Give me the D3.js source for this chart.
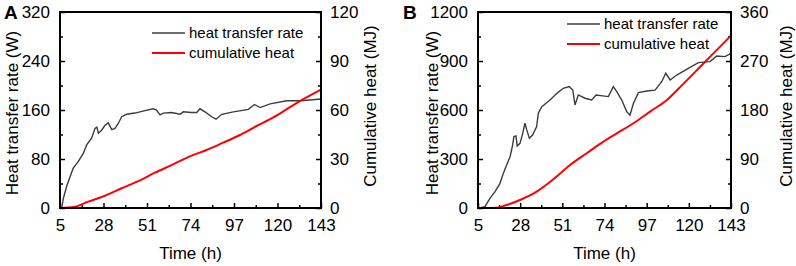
<!DOCTYPE html>
<html lang="en">
<head>
  <meta charset="UTF-8">
  <title>Heat transfer rate and cumulative heat</title>
  <style>
    body { margin: 0; background: #fff; }
    svg { font-family: "Liberation Sans", Arial, sans-serif; }
    .tick line { stroke: #000; stroke-width: 1.5; }
    .axis-title { font-size: 17px; }
    .legend text { font-size: 15px; }
  </style>
</head>
<body>
  <script src="https://cdn.jsdelivr.net/npm/d3@7"></script>
  <script>
    const width = 796, height = 266;

    // shared x ticks (time, h)
    const timeTicks = [5, 28, 51, 74, 97, 120, 143];

    // panel A
    const timeRateA = [5.9, 6.8, 8.5, 10.3, 12, 14.7, 17.3, 19.1, 21.7, 23.5, 24.5, 25.3, 27, 28.8, 30.5, 32.4, 34.1, 35.8, 37.6, 40.2,
      44.6, 49.9, 54.3, 56, 57.9, 59.6, 64, 68.5, 70.2, 74.6, 77.3, 79, 81.7, 85.2, 87.5, 90.5, 96.7, 104.6, 107.8, 110.8,
      116.1, 124.9, 132.3, 143];
    const rateA = [0, 16, 35, 51, 65, 76, 89, 103, 114, 130, 132, 122, 127, 135, 139, 128, 130, 138, 149, 153,
      155, 159, 162, 160, 152, 155, 156, 153, 157, 156, 156, 162, 157, 149, 145, 153, 157, 161, 169, 164,
      170, 175, 175, 178];
    const timeHeatA = [5, 12.9, 19.9, 28.8, 37.6, 46.4, 55.2, 64, 74, 82.5, 91.3, 100.1, 108.9, 117.8, 126.6, 133.6, 143];
    const heatA = [0, 0.8, 3.9, 7.5, 12.1, 16.5, 21.6, 26.3, 31.8, 35.5, 40, 44.7, 50.2, 55.5, 61.7, 66.6, 72.5];
    const rateTicksA = [0, 80, 160, 240, 320];
    const heatTicksA = [0, 30, 60, 90, 120];

    // panel B
    const timeRateB = [5.7, 8.8, 11.5, 14.3, 17, 18.8, 20.6, 22.5, 23.9, 24.6, 25.7, 26.4, 27.9, 29.4, 30.6, 31.6, 33, 34.8, 37, 37.9,
      39.8, 44.3, 48, 51.5, 54.8, 56.7, 57.9, 59.7, 63.4, 67, 69.4, 76.1, 78.8, 80.7, 83.4, 86.1, 87.9, 89.8, 92.5, 97,
      101.6, 105.2, 107.4, 109.8, 113.4, 119.7, 125.2, 131.6, 135.2, 139.7, 143];
    const rateB = [0, 8, 59, 100, 151, 212, 263, 314, 386, 437, 441, 380, 396, 457, 519, 478, 427, 447, 498, 580,
      620, 661, 702, 733, 743, 722, 631, 692, 672, 661, 692, 682, 743, 712, 661, 590, 569, 641, 706, 716,
      722, 773, 825, 784, 814, 855, 890, 896, 931, 927, 947];
    const timeHeatB = [5, 15.2, 20.6, 27.9, 37, 46.1, 55.2, 64.3, 73.4, 80.7, 89.8, 98.8, 107.9, 117, 126.1, 133.4, 141.6, 143];
    const heatB = [0, 0.6, 5.5, 14.7, 30, 52.7, 79, 100.5, 121.8, 137, 155.6, 177, 198, 228, 259, 284, 312, 317];
    const rateTicksB = [0, 300, 600, 900, 1200];
    const heatTicksB = [0, 90, 180, 270, 360];

    const legendNames = ['heat transfer rate', 'cumulative heat'];

    const svg = d3.select('body').append('svg')
      .attr('width', width)
      .attr('height', height);

    function midpoints(ticks) {
      const out = [];
      for (let i = 0; i < ticks.length - 1; i++) out.push((ticks[i] + ticks[i + 1]) / 2);
      return out;
    }

    // strip the domain line and use our own font
    function tidy(s) {
      s.select('.domain').remove();
      s.attr('font-family', '"Liberation Sans", Arial, sans-serif').attr('font-size', 17);
    }

    function drawPanel(p) {
      const g = svg.append('g');
      const x = d3.scaleLinear().domain([5, 143]).range([p.left, p.right]);
      const yL = d3.scaleLinear().domain([0, p.rateTicks[p.rateTicks.length - 1]]).range([p.bottom, p.top]);
      const yR = d3.scaleLinear().domain([0, p.heatTicks[p.heatTicks.length - 1]]).range([p.bottom, p.top]);
      const fmt = d3.format('d');

      // minor ticks
      g.append('g').attr('transform', `translate(0,${p.bottom})`)
        .call(d3.axisBottom(x).tickValues(midpoints(timeTicks)).tickSize(-3).tickFormat(''))
        .call(tidy);
      g.append('g').attr('transform', `translate(${p.left},0)`)
        .call(d3.axisLeft(yL).tickValues(midpoints(p.rateTicks)).tickSize(-3).tickFormat(''))
        .call(tidy);
      g.append('g').attr('transform', `translate(${p.right},0)`)
        .call(d3.axisRight(yR).tickValues(midpoints(p.heatTicks)).tickSize(-3).tickFormat(''))
        .call(tidy);

      // major ticks
      g.append('g').attr('transform', `translate(0,${p.bottom})`)
        .call(d3.axisBottom(x).tickValues(timeTicks).tickSize(-5).tickPadding(11).tickFormat(fmt))
        .call(tidy);
      g.append('g').attr('transform', `translate(${p.left},0)`)
        .call(d3.axisLeft(yL).tickValues(p.rateTicks).tickSize(-5).tickPadding(10).tickFormat(fmt))
        .call(tidy);
      g.append('g').attr('transform', `translate(${p.right},0)`)
        .call(d3.axisRight(yR).tickValues(p.heatTicks).tickSize(-5).tickPadding(9).tickFormat(fmt))
        .call(tidy);

      // lines
      const rateLine = d3.line().x((d, i) => x(p.timeRate[i])).y(d => yL(d));
      const heatLine = d3.line().curve(d3.curveMonotoneX).x((d, i) => x(p.timeHeat[i])).y(d => yR(d));
      g.append('path').datum(p.rate)
        .attr('d', rateLine).attr('fill', 'none')
        .attr('stroke', '#3c3c3c').attr('stroke-width', 1.4);
      g.append('path').datum(p.heat)
        .attr('d', heatLine).attr('fill', 'none')
        .attr('stroke', '#ff0000').attr('stroke-width', 2);

      // frame
      g.append('rect')
        .attr('x', p.left).attr('y', p.top)
        .attr('width', p.right - p.left).attr('height', p.bottom - p.top)
        .attr('fill', 'none').attr('stroke', '#000').attr('stroke-width', 2);

      // legend
      const leg = g.append('g').attr('class', 'legend');
      const colors = ['#3c3c3c', '#ff0000'];
      legendNames.forEach((name, i) => {
        const ly = p.legY + i * 20;
        leg.append('line')
          .attr('x1', p.legX).attr('x2', p.legX + 33)
          .attr('y1', ly).attr('y2', ly)
          .attr('stroke', colors[i]).attr('stroke-width', i ? 2 : 1.4);
        leg.append('text')
          .attr('x', p.legX + 37).attr('y', ly).attr('dy', '0.35em')
          .text(name);
      });

      // titles
      g.append('text').attr('class', 'axis-title')
        .attr('x', (p.left + p.right) / 2).attr('y', 259)
        .attr('text-anchor', 'middle').text('Time (h)');
      g.append('text').attr('class', 'axis-title')
        .attr('transform', `translate(${p.leftTitleX},113) rotate(-90)`)
        .attr('text-anchor', 'middle').attr('dy', '0.35em')
        .text('Heat transfer rate (W)');
      g.append('text').attr('class', 'axis-title')
        .attr('transform', `translate(${p.rightTitleX},106) rotate(-90)`)
        .attr('text-anchor', 'middle').attr('dy', '0.35em')
        .text('Cumulative heat (MJ)');
      g.append('text')
        .attr('x', p.labelX).attr('y', 19)
        .attr('font-size', 19).attr('font-weight', 'bold')
        .text(p.label);
    }

    drawPanel({
      label: 'A', labelX: 4, left: 60, right: 321, top: 12, bottom: 208,
      timeRate: timeRateA, rate: rateA, timeHeat: timeHeatA, heat: heatA,
      rateTicks: rateTicksA, heatTicks: heatTicksA,
      legX: 152, legY: 33, leftTitleX: 12, rightTitleX: 370
    });
    drawPanel({
      label: 'B', labelX: 403, left: 478, right: 731, top: 12, bottom: 208,
      timeRate: timeRateB, rate: rateB, timeHeat: timeHeatB, heat: heatB,
      rateTicks: rateTicksB, heatTicks: heatTicksB,
      legX: 567, legY: 24, leftTitleX: 432, rightTitleX: 786
    });
  </script>
</body>
</html>
